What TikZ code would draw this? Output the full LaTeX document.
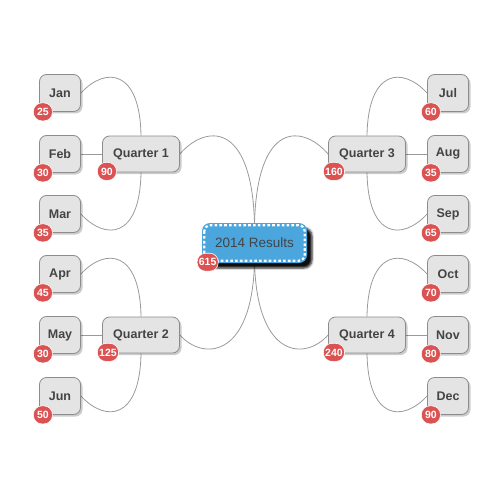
\documentclass[tikz,border=0pt]{standalone}
\usepackage{fontspec}
\setmainfont{Liberation Sans}
\usetikzlibrary{shadows,shadows.blur}
\definecolor{boxfill}{HTML}{E4E4E4}
\definecolor{boxline}{HTML}{8C8C8C}
\definecolor{txt}{HTML}{444444}
\definecolor{badgered}{HTML}{DB5252}
\definecolor{cblue}{HTML}{4BA6DE}
\definecolor{wire}{HTML}{9A9A9A}
\pgfdeclarelayer{bg}
\pgfsetlayers{bg,main}
\begin{document}
\begin{tikzpicture}[x=1pt,y=-1pt,
  box/.style={draw=boxline, fill=boxfill, rounded corners=7pt, line width=0.8pt,
    font=\bfseries\fontsize{12.5}{14}\selectfont, text=txt, inner sep=0pt,
    drop shadow={shadow xshift=2pt, shadow yshift=-2pt, opacity=0.2, fill=black}},
  qbox/.style={box, minimum width=77pt, minimum height=36pt},
  mbox/.style={box, minimum width=41pt, minimum height=37pt},
  cnode/.style={fill=cblue, rounded corners=8pt, minimum width=105pt, minimum height=40pt,
    inner sep=0pt, text=txt, font=\fontsize{13.5}{15}\selectfont,
    blur shadow={shadow xshift=5pt, shadow yshift=-5pt, shadow opacity=95, shadow blur radius=2.2pt}},
  badge/.style={fill=badgered, draw=white, line width=0.6pt, rounded corners=8.5pt,
    minimum height=18pt, minimum width=19pt, inner sep=1.8pt, text=white,
    font=\bfseries\fontsize{10.5}{11}\selectfont, anchor=west},
  wirel/.style={draw=wire, line width=0.8pt}
]
\useasboundingbox (0,0) rectangle (500,500);

% centre
\node[cnode] (c) at (254.5,243) {2014 Results};
\draw[white, line width=2.2pt, dash pattern=on 2.6pt off 2.2pt, rounded corners=6pt]
  ([shift={(2.5,2.5)}]c.north west) rectangle ([shift={(-2.5,-2.5)}]c.south east);

% quarters
\node[qbox] (q1) at (141,154) {Quarter 1};
\node[qbox] (q2) at (141,335) {Quarter 2};
\node[qbox] (q3) at (367,154) {Quarter 3};
\node[qbox] (q4) at (367,335) {Quarter 4};

% months
\node[mbox] (jan) at (60,93) {Jan};
\node[mbox] (feb) at (60,154) {Feb};
\node[mbox] (mar) at (60,214) {Mar};
\node[mbox] (apr) at (60,274) {Apr};
\node[mbox] (may) at (60,335) {May};
\node[mbox] (jun) at (60,396) {Jun};
\node[mbox] (jul) at (448,93) {Jul};
\node[mbox] (aug) at (448,154) {Aug};
\node[mbox] (sep) at (448,214) {Sep};
\node[mbox] (oct) at (448,274) {Oct};
\node[mbox] (nov) at (448,335) {Nov};
\node[mbox] (dec) at (448,396) {Dec};

% badges
\node[badge] (bc) at ([xshift=-5pt,yshift=1pt]c.south west) {615};
\node[badge] (bq1) at ([xshift=-5pt,yshift=1pt]q1.south west) {90};
\node[badge] (bq2) at ([xshift=-5pt,yshift=1pt]q2.south west) {125};
\node[badge] (bq3) at ([xshift=-5pt,yshift=1pt]q3.south west) {160};
\node[badge] (bq4) at ([xshift=-5pt,yshift=1pt]q4.south west) {240};
\node[badge] (bjan) at ([xshift=-6pt]jan.south west) {25};
\node[badge] (bfeb) at ([xshift=-6pt]feb.south west) {30};
\node[badge] (bmar) at ([xshift=-6pt]mar.south west) {35};
\node[badge] (bapr) at ([xshift=-6pt]apr.south west) {45};
\node[badge] (bmay) at ([xshift=-6pt]may.south west) {30};
\node[badge] (bjun) at ([xshift=-6pt]jun.south west) {50};
\node[badge] (bjul) at ([xshift=-6pt]jul.south west) {60};
\node[badge] (baug) at ([xshift=-6pt]aug.south west) {35};
\node[badge] (bsep) at ([xshift=-6pt]sep.south west) {65};
\node[badge] (boct) at ([xshift=-6pt]oct.south west) {70};
\node[badge] (bnov) at ([xshift=-6pt]nov.south west) {80};
\node[badge] (bdec) at ([xshift=-6pt]dec.south west) {90};

\begin{pgfonlayer}{bg}
\draw[wirel] (c.north) .. controls +(-3,-103) and +(25,-29) .. (q1.east);
\draw[wirel] (c.north) .. controls +(3,-103) and +(-25,-29) .. (q3.west);
\draw[wirel] (c.south) .. controls +(-3,97) and +(22,25) .. (q2.east);
\draw[wirel] (c.south) .. controls +(3,97) and +(-22,25) .. (q4.west);

\draw[wirel] (q1.north) .. controls +(-1,-66) and +(25,-27) .. (jan.east);
\draw[wirel] (q1.west) -- (feb.east);
\draw[wirel] (q1.south) .. controls +(-1,66) and +(25,27) .. (mar.east);
\draw[wirel] (q2.north) .. controls +(-1,-66) and +(25,-27) .. (apr.east);
\draw[wirel] (q2.west) -- (may.east);
\draw[wirel] (q2.south) .. controls +(-1,66) and +(25,27) .. (jun.east);

\draw[wirel] (q3.north) .. controls +(1,-66) and +(-25,-27) .. (jul.west);
\draw[wirel] (q3.east) -- (aug.west);
\draw[wirel] (q3.south) .. controls +(1,66) and +(-25,27) .. (sep.west);
\draw[wirel] (q4.north) .. controls +(1,-66) and +(-25,-27) .. (oct.west);
\draw[wirel] (q4.east) -- (nov.west);
\draw[wirel] (q4.south) .. controls +(1,66) and +(-25,27) .. (dec.west);
\end{pgfonlayer}
\end{tikzpicture}
\end{document}
